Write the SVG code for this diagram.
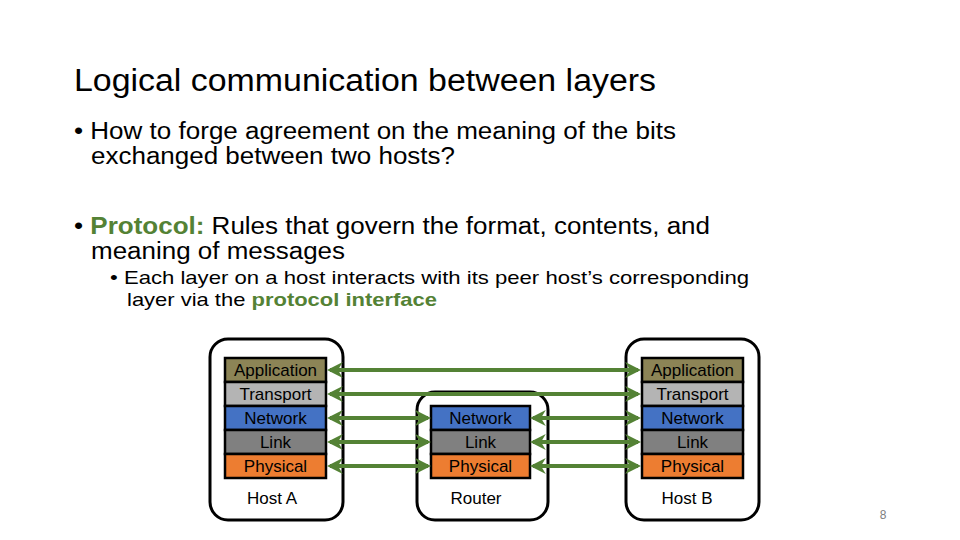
<svg xmlns="http://www.w3.org/2000/svg" width="960" height="540" viewBox="0 0 960 540">
<style>
text{font-family:"Liberation Sans",Arial,sans-serif;fill:#000}
.box{fill:#fff;stroke:#000;stroke-width:3}
.l{stroke:#000;stroke-width:2.5}
.lt{font-size:17px;text-anchor:middle}
.c{stroke:#548235;stroke-width:4;fill:none;marker-start:url(#a);marker-end:url(#a)}
.g{fill:#548235;font-weight:bold}
</style>
<defs>
<marker id="a" viewBox="0 0 10 10" refX="8" refY="5" markerWidth="4" markerHeight="4" orient="auto-start-reverse" markerUnits="strokeWidth"><path d="M0,0 L10,5 L0,10 L3,5 Z" fill="#548235"/></marker>
</defs>
<rect width="960" height="540" fill="#fff"/>
<text x="74" y="91" font-size="31" textLength="582" lengthAdjust="spacingAndGlyphs">Logical communication between layers</text>
<text x="74" y="139" font-size="23" textLength="602" lengthAdjust="spacingAndGlyphs">• How to forge agreement on the meaning of the bits</text>
<text x="91" y="164" font-size="23" textLength="364" lengthAdjust="spacingAndGlyphs">exchanged between two hosts?</text>
<text x="74" y="234" font-size="23" textLength="636" lengthAdjust="spacingAndGlyphs">• <tspan class="g">Protocol:</tspan> Rules that govern the format, contents, and</text>
<text x="91" y="259" font-size="23" textLength="254" lengthAdjust="spacingAndGlyphs">meaning of messages</text>
<text x="110" y="284" font-size="19" textLength="639" lengthAdjust="spacingAndGlyphs">• Each layer on a host interacts with its peer host’s corresponding</text>
<text x="127" y="306" font-size="19" textLength="310" lengthAdjust="spacingAndGlyphs">layer via the <tspan class="g">protocol interface</tspan></text>
<g id="hostA">
<rect class="box" x="210" y="339" width="133" height="181" rx="18"/>
<rect class="l" x="225" y="358" width="101" height="24" fill="#8C8456"/>
<rect class="l" x="225" y="382" width="101" height="24" fill="#B4B4B4"/>
<rect class="l" x="225" y="406" width="101" height="24" fill="#4472C4"/>
<rect class="l" x="225" y="430" width="101" height="24" fill="#808080"/>
<rect class="l" x="225" y="454" width="101" height="24" fill="#ED7D31"/>
<text class="lt" x="275.5" y="376">Application</text>
<text class="lt" x="275.5" y="400">Transport</text>
<text class="lt" x="275.5" y="424">Network</text>
<text class="lt" x="275.5" y="448">Link</text>
<text class="lt" x="275.5" y="472">Physical</text>
<text class="lt" x="272" y="504">Host A</text>
</g>
<g id="router">
<rect class="box" x="417" y="392" width="131" height="128" rx="18"/>
<rect class="l" x="431" y="406" width="99" height="24" fill="#4472C4"/>
<rect class="l" x="431" y="430" width="99" height="24" fill="#808080"/>
<rect class="l" x="431" y="454" width="99" height="24" fill="#ED7D31"/>
<text class="lt" x="480.5" y="424">Network</text>
<text class="lt" x="480.5" y="448">Link</text>
<text class="lt" x="480.5" y="472">Physical</text>
<text class="lt" x="476" y="504">Router</text>
</g>
<g id="hostB">
<rect class="box" x="626" y="339" width="133" height="181" rx="18"/>
<rect class="l" x="642" y="358" width="101" height="24" fill="#8C8456"/>
<rect class="l" x="642" y="382" width="101" height="24" fill="#B4B4B4"/>
<rect class="l" x="642" y="406" width="101" height="24" fill="#4472C4"/>
<rect class="l" x="642" y="430" width="101" height="24" fill="#808080"/>
<rect class="l" x="642" y="454" width="101" height="24" fill="#ED7D31"/>
<text class="lt" x="692.5" y="376">Application</text>
<text class="lt" x="692.5" y="400">Transport</text>
<text class="lt" x="692.5" y="424">Network</text>
<text class="lt" x="692.5" y="448">Link</text>
<text class="lt" x="692.5" y="472">Physical</text>
<text class="lt" x="687" y="504">Host B</text>
</g>
<g id="connectors">
<line class="c" x1="330" y1="370" x2="638" y2="370"/>
<line class="c" x1="330" y1="394" x2="638" y2="394"/>
<line class="c" x1="330" y1="418" x2="428" y2="418"/>
<line class="c" x1="330" y1="442" x2="428" y2="442"/>
<line class="c" x1="330" y1="466" x2="428" y2="466"/>
<line class="c" x1="533" y1="418" x2="638" y2="418"/>
<line class="c" x1="533" y1="442" x2="638" y2="442"/>
<line class="c" x1="533" y1="466" x2="638" y2="466"/>
</g>
<text x="883" y="519" font-size="12" text-anchor="middle" style="fill:#808080">8</text>
</svg>
